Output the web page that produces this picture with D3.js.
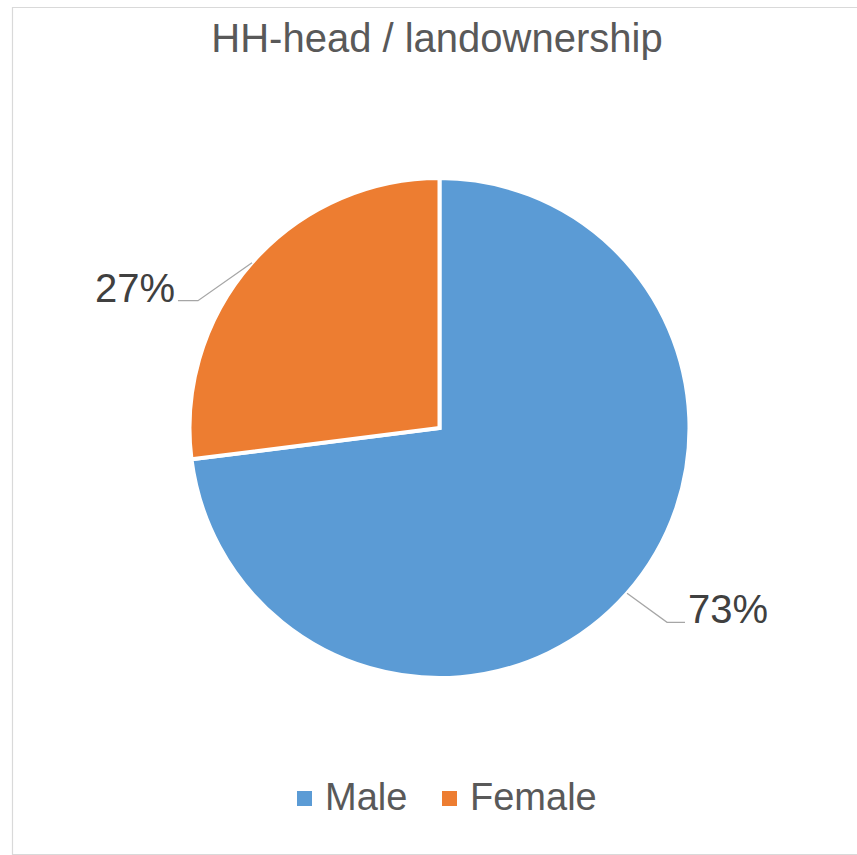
<!DOCTYPE html>
<html>
<head>
<meta charset="utf-8">
<script src="https://cdn.jsdelivr.net/npm/d3@7"></script>
<style>
  html, body { margin: 0; padding: 0; background: #fff; }
  svg { display: block; }
  text { font-family: "Liberation Sans", Arial, sans-serif; }
</style>
</head>
<body>
<svg id="chart" width="857" height="855"></svg>
<script>
const title = "HH-head / landownership";
const categories = ["Male", "Female"];
const values = [73, 27];
const colors = ["#5B9BD5", "#ED7D31"];
const labelTexts = ["73%", "27%"];

const W = 857, H = 855;
const svg = d3.select("#chart");

// chart border (right edge falls outside the picture)
const border = svg.append("g").attr("stroke", "#D9D9D9").attr("stroke-width", 1.2).attr("fill", "none");
border.append("path").attr("d", `M${W + 5},7.5 H12.5 V854.5 H${W + 5}`);

// title
svg.append("text")
  .attr("x", 437).attr("y", 52)
  .attr("text-anchor", "middle")
  .attr("font-size", 40)
  .attr("fill", "#595959")
  .text(title);

const cx = 439.5, cy = 428, r = 250;
const data = categories.map((c, i) => ({ cat: c, value: values[i], color: colors[i], label: labelTexts[i] }));

const pie = d3.pie().value(d => d.value).sort(null).startAngle(0).endAngle(2 * Math.PI);
const arcs = pie(data);
const arc = d3.arc().innerRadius(0).outerRadius(r);

const g = svg.append("g").attr("transform", `translate(${cx},${cy})`);
g.selectAll("path.slice")
  .data(arcs)
  .join("path")
  .attr("class", "slice")
  .attr("d", arc)
  .attr("fill", d => d.data.color)
  .attr("stroke", "#fff")
  .attr("stroke-width", 4)
  .attr("stroke-linejoin", "miter");

// leader lines + labels
const edgeArc = d3.arc().innerRadius(r).outerRadius(r);
const leaderOffsets = [ { dx: 40, dy: 29, h: 18, side: 1 }, { dx: -54, dy: 38, h: 20, side: -1 } ];
arcs.forEach((a, i) => {
  const [ex, ey] = edgeArc.centroid(a);
  const o = leaderOffsets[i];
  const x1 = ex + o.dx, y1 = ey + o.dy;
  const x2 = x1 + o.side * o.h;
  g.append("polyline")
    .attr("points", `${ex},${ey} ${x1},${y1} ${x2},${y1}`)
    .attr("fill", "none")
    .attr("stroke", "#A6A6A6")
    .attr("stroke-width", 1.3);
  g.append("text")
    .attr("x", x2 + o.side * 3)
    .attr("y", y1 + 1)
    .attr("text-anchor", o.side > 0 ? "start" : "end")
    .attr("font-size", 40)
    .attr("fill", "#404040")
    .text(a.data.label);
});

// legend
const legend = svg.append("g");
const legendX = [297, 442];
data.forEach((d, i) => {
  legend.append("rect")
    .attr("x", legendX[i]).attr("y", 791)
    .attr("width", 15).attr("height", 15)
    .attr("fill", d.color);
  legend.append("text")
    .attr("x", legendX[i] + 28).attr("y", 810)
    .attr("font-size", 38)
    .attr("fill", "#595959")
    .text(d.cat);
});
</script>
</body>
</html>
